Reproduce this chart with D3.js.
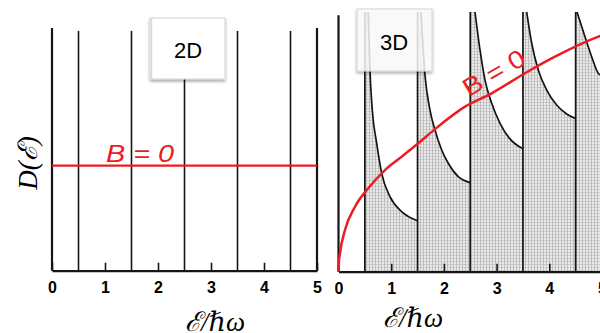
<!DOCTYPE html>
<html>
<head>
<meta charset="utf-8">
<script src="https://cdn.jsdelivr.net/npm/d3@7"></script>
<style>
  html, body { margin: 0; padding: 0; background: #fff; }
  svg { display: block; }
</style>
</head>
<body>
<svg id="chart" width="600" height="333"></svg>
<script>
// ---- data -------------------------------------------------------------
const energyTicks = [0, 1, 2, 3, 4, 5];
const landauLevels = [0.5, 1.5, 2.5, 3.5, 4.5];

// 2D: constant density of states at B = 0 (fraction of frame height)
const dos2dFree = 0.433;
const dos2dLevelTop = 0.988;

// 3D: free-electron density of states at B = 0
const freeE = [0, 0.006, 0.028, 0.123, 0.313, 0.565, 0.882, 1.199, 1.514, 1.831, 2.400, 2.907, 3.539, 4.108, 4.930, 5.0];
const freeD = [0, 0.080, 0.174, 0.393, 0.613, 0.787, 0.959, 1.085, 1.211, 1.345, 1.557, 1.683, 1.872, 2.028, 2.217, 2.230];

// 3D: density of states in a field, one branch per Landau level
const level0E = [0.5, 0.565, 0.598, 0.641, 0.725, 0.820, 0.977, 1.199, 1.5];
const level0D = [2.45, 2.45, 1.887, 1.525, 1.211, 0.928, 0.708, 0.566, 0.480];
const level1E = [1.5, 1.565, 1.641, 1.736, 1.831, 1.958, 2.083, 2.273, 2.5];
const level1D = [2.45, 2.45, 1.856, 1.525, 1.337, 1.148, 1.023, 0.896, 0.840];
const level2E = [2.5, 2.590, 2.685, 2.780, 2.907, 3.065, 3.245, 3.5];
const level2D = [2.45, 2.45, 2.092, 1.808, 1.589, 1.400, 1.258, 1.160];
const level3E = [3.5, 3.571, 3.666, 3.791, 3.951, 4.140, 4.330, 4.5];
const level3D = [2.45, 2.45, 2.155, 1.903, 1.714, 1.573, 1.488, 1.445];
const level4E = [4.5, 4.526, 4.677, 4.804, 4.929, 5.0];
const level4D = [2.45, 2.45, 2.217, 2.028, 1.872, 1.850];

const branches = [
  [level0E, level0D], [level1E, level1D], [level2E, level2D],
  [level3E, level3D], [level4E, level4D]
].map(([E, D]) => E.map((e, i) => ({ e, d: D[i] })));

const freeCurve = freeE.map((e, i) => ({ e, d: freeD[i] }));

// ---- setup ------------------------------------------------------------
const svg = d3.select("#chart");
const RED = "#ec1c24";
const INK = "#151515";

const defs = svg.append("defs");
// halftone-like grey fill for the occupied states
const pat = defs.append("pattern")
  .attr("id", "halftone").attr("patternUnits", "userSpaceOnUse")
  .attr("width", 3).attr("height", 3);
pat.append("rect").attr("width", 3).attr("height", 3).attr("fill", "#ebebeb");
pat.append("rect").attr("width", 3).attr("height", 1).attr("fill", "#cccccc");
pat.append("rect").attr("width", 1).attr("height", 3).attr("fill", "#bdbdbd");

const shadow = defs.append("filter").attr("id", "shadow")
  .attr("x", "-20%").attr("y", "-20%").attr("width", "140%").attr("height", "150%");
shadow.append("feDropShadow").attr("dx", 0).attr("dy", 2)
  .attr("stdDeviation", 1.4).attr("flood-color", "#000").attr("flood-opacity", 0.35);

const tickFont = "'Liberation Sans', Arial, sans-serif";
const mathFont = "'Liberation Serif', 'DejaVu Serif', serif";

function drawAxis(g, x, y0) {
  const ax = g.append("g")
    .attr("transform", `translate(0,${y0})`)
    .call(d3.axisBottom(x).tickValues(energyTicks).tickFormat(d3.format("d"))
      .tickSizeInner(-8).tickSizeOuter(0).tickPadding(11));
  ax.select(".domain").attr("stroke", INK).attr("stroke-width", 2.2);
  ax.selectAll(".tick line").attr("stroke", INK).attr("stroke-width", 1.6);
  ax.selectAll(".tick text")
    .attr("fill", "#000")
    .style("font-family", tickFont)
    .style("font-size", "16px")
    .style("font-weight", "bold");
}

// ---- 2D panel ---------------------------------------------------------
{
  const x = d3.scaleLinear().domain([0, 5]).range([52, 317]);
  const y = d3.scaleLinear().domain([0, 1]).range([270.7, 28]);
  const g = svg.append("g");

  g.selectAll("line.level").data(landauLevels).join("line")
    .attr("class", "level")
    .attr("x1", d => x(d)).attr("x2", d => x(d))
    .attr("y1", y(0)).attr("y2", y(dos2dLevelTop))
    .attr("stroke", INK).attr("stroke-width", 1.6);

  g.selectAll("line.frame").data([0, 5]).join("line")
    .attr("class", "frame")
    .attr("x1", d => x(d)).attr("x2", d => x(d))
    .attr("y1", y(0)).attr("y2", y(1))
    .attr("stroke", INK).attr("stroke-width", 2.2);

  drawAxis(g, x, y(0));

  g.append("line")
    .attr("x1", x(0)).attr("x2", x(5))
    .attr("y1", y(dos2dFree)).attr("y2", y(dos2dFree))
    .attr("stroke", RED).attr("stroke-width", 2.4);

  g.append("text")
    .attr("transform", "translate(106,162) scale(1.25,1)")
    .attr("fill", RED)
    .style("font-family", tickFont).style("font-size", "23px").style("font-style", "italic")
    .text("B = 0");

  // panel tag
  const tag = g.append("g");
  tag.append("rect").attr("x", 150).attr("y", 18).attr("width", 75).attr("height", 61)
    .attr("fill", "#fff").attr("stroke", "#d4d4d4").attr("stroke-width", 1)
    .attr("filter", "url(#shadow)");
  tag.append("line").attr("x1", 151.5).attr("x2", 151.5).attr("y1", 18).attr("y2", 79)
    .attr("stroke", "#d8d8d8").attr("stroke-width", 1.5);
  tag.append("text").attr("x", 188).attr("y", 58)
    .attr("text-anchor", "middle").attr("fill", "#000")
    .style("font-family", tickFont).style("font-size", "22px")
    .text("2D");

  // axis titles
  g.append("text")
    .attr("transform", "translate(37,163) rotate(-90)")
    .attr("text-anchor", "middle").attr("fill", "#000")
    .style("font-family", mathFont).style("font-size", "27px").style("font-style", "italic")
    .text("D(ℰ)");
  g.append("text")
    .attr("x", 215).attr("y", 331)
    .attr("text-anchor", "middle").attr("fill", "#000")
    .style("font-family", mathFont).style("font-size", "27px").style("font-style", "italic")
    .text("ℰ/ℏω");
}

// ---- 3D panel ---------------------------------------------------------
{
  const x = d3.scaleLinear().domain([0, 5]).range([338.5, 602]);
  const y = d3.scaleLinear().domain([0, 2.45]).range([271.7, 12]);
  const g = svg.append("g");

  const line = d3.line().x(p => x(p.e)).y(p => y(p.d)).curve(d3.curveMonotoneX);

  // occupied states under each Landau branch
  branches.forEach(b => {
    const top = b.slice(1);
    const curvePath = line(top);
    const first = b[0], last = b[b.length - 1];
    const d = `M${x(first.e)},${y(0)}L${x(first.e)},${y(first.d)}L` +
      curvePath.slice(1) + `L${x(last.e)},${y(0)}Z`;
    g.append("path").attr("d", d).attr("fill", "url(#halftone)");
  });

  // branch outlines
  branches.forEach(b => {
    g.append("path").attr("d", line(b.slice(1)))
      .attr("fill", "none").attr("stroke", INK).attr("stroke-width", 1.7);
  });
  g.selectAll("line.level").data(landauLevels).join("line")
    .attr("class", "level")
    .attr("x1", d => x(d)).attr("x2", d => x(d))
    .attr("y1", y(0)).attr("y2", y(2.45))
    .attr("stroke", INK).attr("stroke-width", 1.7);

  g.append("line")
    .attr("x1", x(0)).attr("x2", x(0))
    .attr("y1", y(0)).attr("y2", y(2.42))
    .attr("stroke", INK).attr("stroke-width", 2.2);

  drawAxis(g, x, y(0));

  g.append("path").attr("d", line(freeCurve))
    .attr("fill", "none").attr("stroke", RED).attr("stroke-width", 2.5);

  g.append("text")
    .attr("transform", "translate(494,73) rotate(-30) scale(1.15,1)")
    .attr("text-anchor", "middle").attr("dominant-baseline", "central")
    .attr("fill", RED)
    .style("font-family", tickFont).style("font-size", "25px")
    .text("B = 0");

  // panel tag (translucent)
  const tag = g.append("g");
  tag.append("rect").attr("x", 357).attr("y", 9).attr("width", 75).attr("height", 62)
    .attr("fill", "#fff").attr("fill-opacity", 0.8)
    .attr("stroke", "#d4d4d4").attr("stroke-width", 1)
    .attr("filter", "url(#shadow)");
  tag.append("text").attr("x", 394).attr("y", 50)
    .attr("text-anchor", "middle").attr("fill", "#000")
    .style("font-family", tickFont).style("font-size", "22px")
    .text("3D");

  g.append("text")
    .attr("x", 413).attr("y", 327)
    .attr("text-anchor", "middle").attr("fill", "#000")
    .style("font-family", mathFont).style("font-size", "27px").style("font-style", "italic")
    .text("ℰ/ℏω");
}
</script>
</body>
</html>
